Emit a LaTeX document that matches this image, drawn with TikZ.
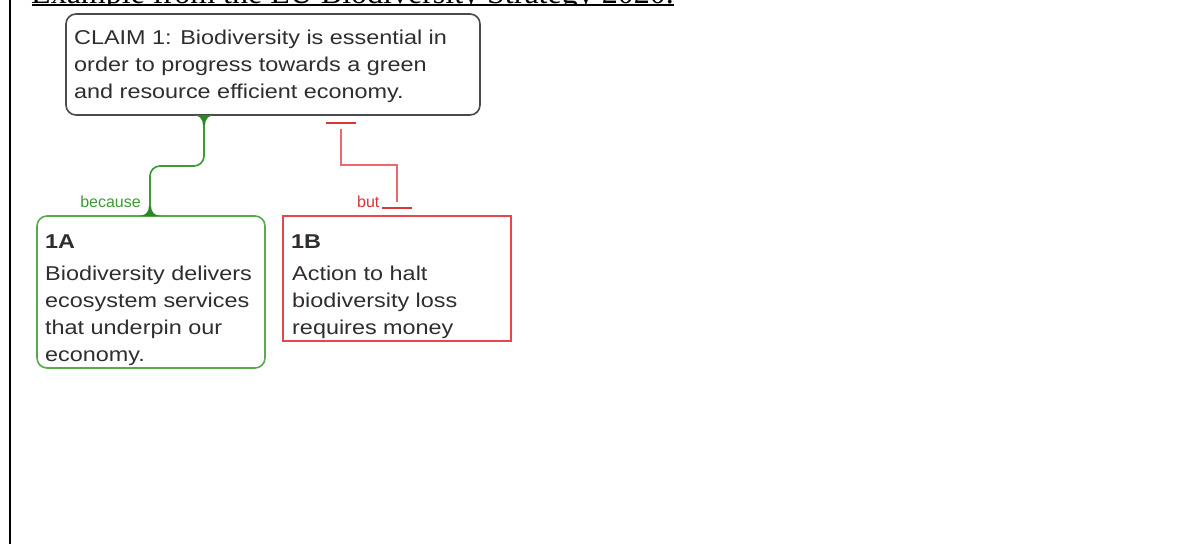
\documentclass[tikz,border=0pt]{standalone}
\usepackage{fontspec}
\setmainfont{Liberation Sans}
\newfontfamily\boxfont[FakeStretch=1.17]{Liberation Sans}
\newfontfamily\titlefont{Liberation Serif}
\usetikzlibrary{calc}

\definecolor{claimgray}{HTML}{4A4A4A}
\definecolor{textgray}{HTML}{2E2E2E}
\definecolor{probox}{HTML}{5AAA4C}
\definecolor{proline}{HTML}{3E9A34}
\definecolor{proflare}{HTML}{2A8A22}
\definecolor{conbox}{HTML}{E8464C}
\definecolor{conline}{HTML}{F06868}
\definecolor{conbar}{HTML}{D63838}

\tikzset{
  argbox/.style={anchor=north west, inner sep=0pt, outer sep=0pt, line width=1.6pt},
  claimbox/.style={argbox, draw=claimgray, rounded corners=10pt},
  probox/.style={argbox, draw=probox, rounded corners=10pt},
  conbox/.style={argbox, draw=conbox},
  bodytext/.style={anchor=north west, inner sep=0pt, align=left, text=textgray,
    font=\boxfont\fontsize{20}{27}\selectfont},
  tagtext/.style={anchor=base west, inner sep=0pt, text=textgray,
    font=\boxfont\bfseries\fontsize{20}{27}\selectfont},
  linklabel/.style={inner sep=0pt, font=\fontsize{16}{18}\selectfont},
  prolink/.style={draw=proline, line width=1.7pt, rounded corners=10pt},
  conlink/.style={draw=conline, line width=1.8pt},
  conend/.style={draw=conbar, line width=1.6pt},
}

\begin{document}
\begin{tikzpicture}[x=1pt,y=-1pt]
\useasboundingbox (0,0) rectangle (1200,544);
\fill[white] (0,0) rectangle (1200,544);

% page rule on the left
\draw[line width=2pt] (10,0) -- (10,544);

% heading, only its lower edge shows at the top of the page
\begin{scope}
  \clip (0,0) rectangle (1200,4.4);
  \node[anchor=base west, inner sep=0pt, font=\titlefont\fontsize{32}{36}\selectfont]
    (title) at (31,3.4) {Example from the EU Biodiversity Strategy 2020.};
\end{scope}
\draw[line width=2pt] ($(title.base west)+(1,2)$) -- ($(title.base east)+(0,2)$);

% argument boxes
\node[claimbox, minimum width=414pt, minimum height=101pt] (claim) at (66,14) {};
\node[probox, minimum width=228pt, minimum height=152pt] (a) at (37,216) {};
\node[conbox, minimum width=228pt, minimum height=125pt] (b) at (283,216) {};

% box texts
\node[bodytext] (claimtext) at (74,29.5)
  {CLAIM 1: Biodiversity is essential in\\order to progress towards a green\\and resource efficient economy.};
\node[tagtext] (atag) at (45,248) {1A};
\node[bodytext] (atext) at (45,265.5)
  {Biodiversity delivers\\ecosystem services\\that underpin our\\economy.};
\node[tagtext] (btag) at (291,248) {1B};
\node[bodytext] (btext) at (292,265.5)
  {Action to halt\\biodiversity loss\\requires money};

% supporting link: because
\coordinate (gtop) at ($(claim.south west)+(138,0)$);
\coordinate (gbot) at ($(a.north west)+(113,0)$);
\draw[prolink] (gtop) -- ++(0,51) -| (gbot);
\fill[proflare] ($(gtop)+(-11,0)$) .. controls ($(gtop)+(-5,0.5)$) and ($(gtop)+(-1.2,3)$) .. ($(gtop)+(-1,10)$)
  -- ($(gtop)+(1,10)$) .. controls ($(gtop)+(1.2,3)$) and ($(gtop)+(5,0.5)$) .. ($(gtop)+(11,0)$) -- cycle;
\fill[proflare] ($(gbot)+(-11,0)$) .. controls ($(gbot)+(-5,-0.5)$) and ($(gbot)+(-1.2,-3)$) .. ($(gbot)+(-1,-10)$)
  -- ($(gbot)+(1,-10)$) .. controls ($(gbot)+(1.2,-3)$) and ($(gbot)+(5,-0.5)$) .. ($(gbot)+(11,0)$) -- cycle;
\node[linklabel, text=proline, anchor=base east] (because) at (141,207) {because};

% opposing link: but
\coordinate (rtop) at ($(claim.south west)+(275,8)$);
\coordinate (rbot) at ($(b.north west)+(114,-8)$);
\draw[conend] ($(rtop)+(-15,0)$) -- ($(rtop)+(15,0)$);
\draw[conend] ($(rbot)+(-15,0)$) -- ($(rbot)+(15,0)$);
\draw[conlink] ($(rtop)+(0,6)$) -- ++(0,36) -| ($(rbot)+(0,-6)$);
\node[linklabel, text=conbar, anchor=base west] (but) at (357,207) {but};
\end{tikzpicture}
\end{document}
